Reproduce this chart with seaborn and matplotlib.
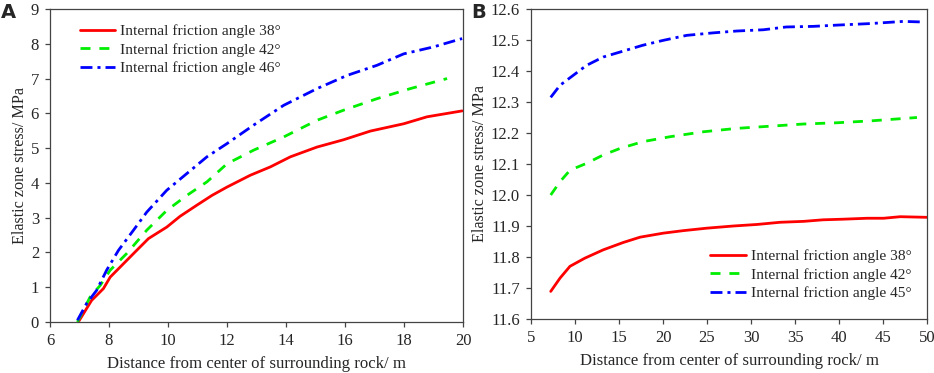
import numpy as np
import pandas as pd
import seaborn as sns
import matplotlib.pyplot as plt

# Panel A : distance (m) / stress (MPa)
a_x38 = [6.96, 7.41, 7.81, 8.04, 8.88, 9.34, 9.96, 10.41, 10.98, 11.49, 12.0, 12.79,
         13.47, 14.15, 15.05, 15.95, 16.86, 17.99, 18.78, 19.97]
a_y38 = [0.0, 0.62, 0.96, 1.29, 2.01, 2.40, 2.73, 3.04, 3.36, 3.64, 3.88, 4.22,
         4.46, 4.75, 5.03, 5.24, 5.49, 5.70, 5.90, 6.07]
a_x42 = [6.93, 7.36, 7.70, 8.04, 8.60, 9.28, 9.96, 10.64, 11.32, 12.0, 12.9, 13.92,
         15.05, 15.95, 17.08, 18.21, 19.46]
a_y42 = [0.0, 0.72, 1.05, 1.49, 1.97, 2.64, 3.21, 3.64, 4.03, 4.55, 4.94, 5.32,
         5.80, 6.09, 6.42, 6.71, 7.0]
a_x46 = [6.93, 7.24, 7.58, 7.92, 8.32, 8.83, 9.28, 9.96, 10.64, 11.32, 12.0, 12.9,
         13.92, 15.05, 16.07, 17.08, 17.99, 19.0, 19.97]
a_y46 = [0.05, 0.53, 0.91, 1.49, 2.06, 2.64, 3.16, 3.79, 4.27, 4.75, 5.13, 5.66,
         6.23, 6.71, 7.09, 7.38, 7.71, 7.91, 8.15]

# Panel B
b_x38 = [7.24, 8.3, 9.43, 11.1, 13.2, 15.5, 17.4, 20.05, 22.3, 24.98, 28.0, 30.7,
         33.3, 36.0, 38.2, 40.5, 43.2, 45.07, 46.96, 50.0]
b_y38 = [11.689, 11.732, 11.77, 11.796, 11.823, 11.847, 11.864, 11.877, 11.885, 11.893,
         11.90, 11.905, 11.912, 11.915, 11.92, 11.922, 11.925, 11.925, 11.93, 11.928]
b_x42 = [7.24, 8.3, 9.43, 11.3, 13.2, 15.1, 17.7, 20.8, 24.6, 28.4, 32.2, 35.97,
         39.76, 43.55, 48.86]
b_y42 = [12.0, 12.043, 12.08, 12.102, 12.129, 12.150, 12.172, 12.188, 12.204, 12.215,
         12.222, 12.229, 12.233, 12.239, 12.25]
b_x45 = [7.24, 8.3, 9.8, 11.3, 13.2, 15.1, 17.7, 20.05, 22.7, 25.7, 28.4, 31.4,
         34.0, 37.1, 39.76, 43.55, 47.3, 49.6]
b_y45 = [12.315, 12.354, 12.386, 12.418, 12.445, 12.461, 12.483, 12.499, 12.515, 12.523,
         12.529, 12.533, 12.542, 12.544, 12.548, 12.553, 12.56, 12.558]

sns.set_style("ticks")
plt.rcParams['font.family'] = ['Liberation Serif', 'DejaVu Serif']
plt.rcParams['font.size'] = 12

fig = plt.figure(figsize=(9.34, 3.73), dpi=100)
ax1 = fig.add_axes([50 / 934, 51 / 373, 413 / 934, 313 / 373])
ax2 = fig.add_axes([531 / 934, 54 / 373, 396 / 934, 310 / 373])

styles = [('red', '-'), ('#00ee00', (0, (3.6, 3.2))), ('blue', (0, (4.3, 1.8, 1.1, 1.8)))]

def draw(ax, series):
    for (xs, ys, lab), (c, ls) in zip(series, styles):
        df = pd.DataFrame({'x': xs, 'y': ys})
        sns.lineplot(data=df, x='x', y='y', ax=ax, color=c, linestyle=ls,
                     linewidth=2.0, label=lab)

draw(ax1, [(a_x38, a_y38, 'Internal friction angle 38°'),
           (a_x42, a_y42, 'Internal friction angle 42°'),
           (a_x46, a_y46, 'Internal friction angle 46°')])
draw(ax2, [(b_x38, b_y38, 'Internal friction angle 38°'),
           (b_x42, b_y42, 'Internal friction angle 42°'),
           (b_x45, b_y45, 'Internal friction angle 45°')])

ax1.set_xlim(6, 20)
ax1.set_ylim(0, 9)
ax1.set_xticks(np.arange(6, 21, 2))
ax1.set_yticks(np.arange(0, 10, 1))
ax2.set_xlim(5, 50)
ax2.set_ylim(11.6, 12.6)
ax2.set_xticks(np.arange(5, 51, 5))
ax2.set_yticks(np.round(np.arange(11.6, 12.61, 0.1), 1))
ax2.set_yticklabels([f'{v:.1f}' for v in np.arange(11.6, 12.61, 0.1)])

for ax in (ax1, ax2):
    ax.set_xlabel('Distance from center of surrounding rock/ m', fontsize=12.1, labelpad=5)
    ax.set_ylabel('Elastic zone stress/ MPa', fontsize=11.6, labelpad=2)
    for s in ax.spines.values():
        s.set_visible(True)
        s.set_color('#444444')
        s.set_linewidth(0.9)
    ax.tick_params(direction='out', length=3.6, width=0.9, color='#444444',
                   labelsize=12, pad=4.3)

ax1.legend(loc='upper left', bbox_to_anchor=(0.038, 0.995), frameon=False,
           handlelength=2.3, handletextpad=0.35, labelspacing=0.3, fontsize=11.1)
ax2.legend(loc='lower right', bbox_to_anchor=(0.997, 0.016), frameon=False,
           handlelength=2.3, handletextpad=0.35, labelspacing=0.3, fontsize=11.1)

fig.text(1 / 934, 1 - 3 / 373, 'A', fontsize=14, fontweight='bold',
         family='DejaVu Sans', va='top', ha='left')
fig.text(471 / 934, 1 - 3 / 373, 'B', fontsize=14, fontweight='bold',
         family='DejaVu Sans', va='top', ha='left')

fig.savefig('out.png', dpi=100)
